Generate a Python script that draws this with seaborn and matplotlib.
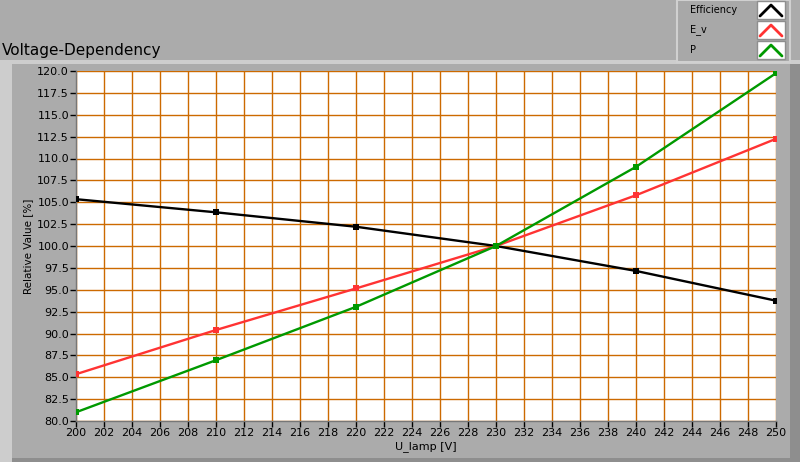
import numpy as np
import pandas as pd
import seaborn as sns
import matplotlib.pyplot as plt
from matplotlib.patches import Rectangle
from matplotlib.lines import Line2D

u_lamp = [200, 210, 220, 230, 240, 250]
efficiency = [105.35, 103.85, 102.2, 100.0, 97.15, 93.75]
e_v = [85.35, 90.4, 95.15, 100.0, 105.8, 112.25]
p = [81.0, 86.95, 93.05, 100.0, 109.05, 119.75]

series_names = ['Efficiency', 'E_v', 'P']
series_colors = ['#000000', '#FF3333', '#009900']

dados = pd.DataFrame({
    'U_lamp': u_lamp * 3,
    'valor': efficiency + e_v + p,
    'serie': [s for s in series_names for _ in u_lamp],
})

sns.set_theme(style="white")
plt.rcParams['font.family'] = ['DejaVu Sans']
plt.rcParams['text.color'] = 'black'
plt.rcParams['axes.labelcolor'] = 'black'

bg = '#ABABAB'
fig = plt.figure(figsize=(8, 4.62), dpi=100, facecolor=bg)

# panel decorations (LabVIEW look)
fig.patches.append(Rectangle((0, 0), 12 / 800, 402 / 462, transform=fig.transFigure,
                             facecolor='#CDCDCD', edgecolor='none', zorder=0))
fig.patches.append(Rectangle((0, 398 / 462), 1, 4 / 462, transform=fig.transFigure,
                             facecolor='#CDCDCD', edgecolor='none', zorder=0))
fig.patches.append(Rectangle((790 / 800, 0), 10 / 800, 398 / 462, transform=fig.transFigure,
                             facecolor='#8E8E8E', edgecolor='none', zorder=0))
fig.patches.append(Rectangle((12 / 800, 0), 778 / 800, 4 / 462, transform=fig.transFigure,
                             facecolor='#8E8E8E', edgecolor='none', zorder=0))

ax = fig.add_axes([76 / 800, 41 / 462, 700 / 800, 350 / 462])
ax.set_facecolor('white')

sns.lineplot(data=dados, x='U_lamp', y='valor', hue='serie', style='serie',
             palette=dict(zip(series_names, series_colors)),
             markers={s: 's' for s in series_names},
             dashes={s: '' for s in series_names},
             markersize=4.3, markeredgewidth=0, linewidth=1.7, legend=False, ax=ax, zorder=3)

ax.set_xlim(200, 250)
ax.set_ylim(80, 120)
ax.set_xticks(np.arange(200, 251, 2))
ax.set_yticks(np.arange(80, 120.1, 2.5))
ax.set_yticklabels([f'{v:.1f}' for v in np.arange(80, 120.1, 2.5)])
ax.grid(True, color='#CC6A00', linewidth=1.0, zorder=1)
ax.set_axisbelow(True)
ax.tick_params(axis='both', labelsize=8, colors='black', length=4, width=1,
               direction='out', bottom=True, left=True, pad=1)
for s in ax.spines.values():
    s.set_color('#777777')
    s.set_linewidth(1)
ax.spines['right'].set_visible(False)
ax.spines['top'].set_visible(False)
ax.set_xlabel('U_lamp [V]', fontsize=8, labelpad=2)
ax.set_ylabel('Relative Value [%]', fontsize=7.5, labelpad=3)

fig.text(2 / 800, 1 - 50 / 462, 'Voltage-Dependency', fontsize=11, va='center', ha='left')

# legend box
fig.patches.append(Rectangle((677 / 800, 1 - 62 / 462), 113 / 800, 62 / 462,
                             transform=fig.transFigure, facecolor='#A8A8A8',
                             edgecolor='#D0D0D0', linewidth=1.5, zorder=2))
for i, (name, col) in enumerate(zip(series_names, series_colors)):
    yc = 10 + i * 20
    fig.text(690 / 800, 1 - yc / 462, name, fontsize=7, va='center', ha='left', zorder=3)
    fig.patches.append(Rectangle((757 / 800, 1 - (yc + 9) / 462), 28 / 800, 18 / 462,
                                 transform=fig.transFigure, facecolor='white',
                                 edgecolor='#8E8E8E', linewidth=1, zorder=3))
    fig.lines.append(Line2D([760 / 800, 771 / 800, 782 / 800],
                            [1 - (yc + 6) / 462, 1 - (yc - 5) / 462, 1 - (yc + 6) / 462],
                            transform=fig.transFigure, color=col, linewidth=2, zorder=4))

plt.savefig('out.png', dpi=100, facecolor=bg)
plt.close()
